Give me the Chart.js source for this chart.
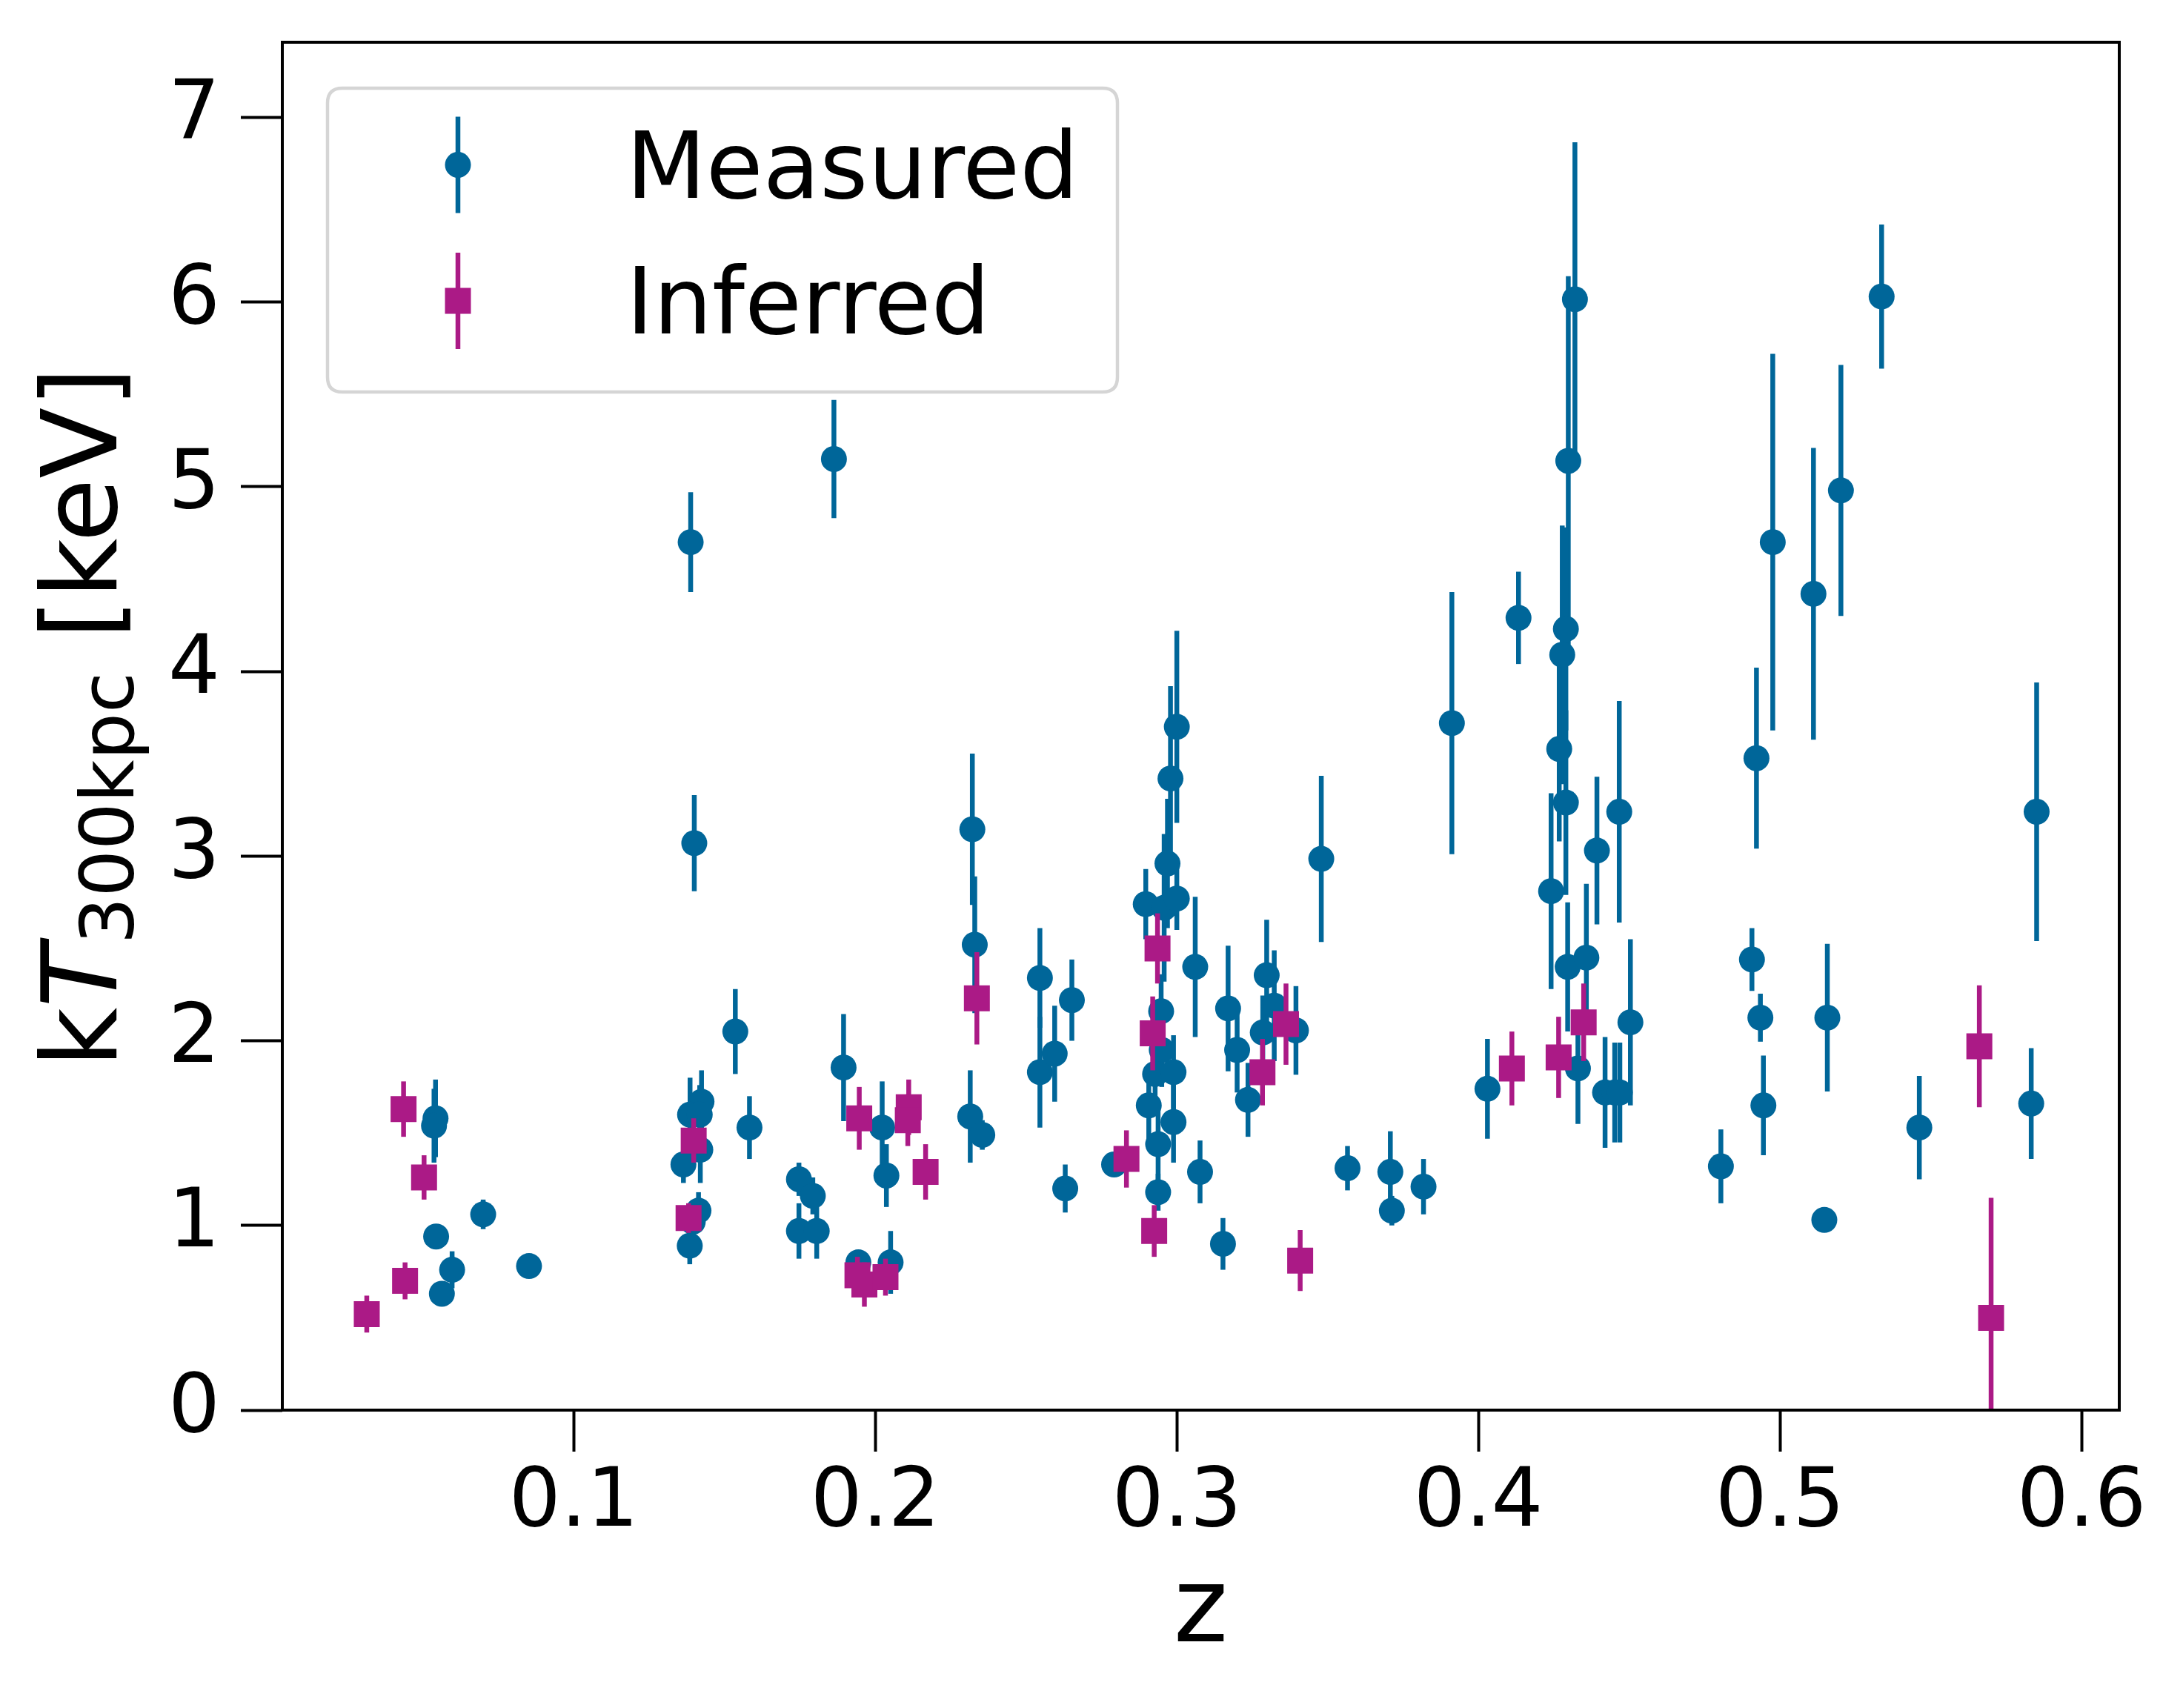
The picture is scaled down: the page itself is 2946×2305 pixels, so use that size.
<!DOCTYPE html>
<html>
<head>
<meta charset="utf-8">
<script src="https://cdn.jsdelivr.net/npm/chart.js@4.4.1/dist/chart.umd.min.js"></script>
<style>
html,body{margin:0;padding:0;background:#ffffff;}
canvas{display:block;}
</style>
</head>
<body>
<canvas id="c" width="2946" height="2305" style="width:2946px;height:2305px"></canvas>
<script>
// ---------------- data ----------------
const seriesNames = ['Measured', 'Inferred'];

const measuredZ = [
  0.0542, 0.0537, 0.0544, 0.0597, 0.0563, 0.0700, 0.0852,
  0.1388, 0.1400, 0.1424, 0.1386, 0.1418, 0.1420, 0.1364, 0.1414, 0.1395, 0.1385,
  0.1536, 0.1583, 0.1747, 0.1793, 0.1747, 0.1806, 0.1863, 0.1895,
  0.2023, 0.2037, 0.1944, 0.2051,
  0.2322, 0.2330, 0.2315, 0.2355, 0.2546, 0.2546, 0.2595, 0.2652, 0.2630, 0.2792,
  0.2897, 0.2958, 0.2969, 0.2979, 0.3000, 0.3000, 0.2948, 0.2950, 0.2928, 0.2989,
  0.2907, 0.2989, 0.2938, 0.2938,
  0.3061, 0.3077, 0.3153, 0.3170, 0.3200, 0.3236, 0.3298, 0.3323, 0.3285, 0.3395,
  0.3479, 0.3566, 0.3708, 0.3713, 0.3818, 0.3912, 0.4030, 0.4133,
  0.4320, 0.4298, 0.4290, 0.4278, 0.4268, 0.4290, 0.4241, 0.4393, 0.4467,
  0.4296, 0.4358, 0.4330, 0.4420, 0.4452, 0.4469, 0.4504,
  0.4804, 0.4907, 0.4922, 0.4935, 0.4945, 0.4976, 0.5111, 0.5202, 0.5337,
  0.5157, 0.5147, 0.5462, 0.5851, 0.5833
];
const measuredT = [
  1.58, 1.54, 0.94, 0.76, 0.63, 1.06, 0.78,
  4.70, 3.07, 1.67, 1.60, 1.60, 1.41, 1.33, 1.08, 1.02, 0.89,
  2.05, 1.53, 1.25, 1.16, 0.97, 0.97, 5.15, 1.855,
  1.53, 1.27, 0.80, 0.80,
  3.145, 2.52, 1.59, 1.49, 2.34, 1.83, 1.93, 2.22, 1.20, 1.33,
  2.74, 2.72, 2.96, 3.42, 3.70, 2.77, 2.16, 1.95, 1.82, 1.83,
  1.65, 1.56, 1.44, 1.18,
  2.40, 1.29, 0.90, 2.175, 1.95, 1.68, 2.355, 2.19, 2.045, 2.056,
  2.985, 1.31, 1.29, 1.08, 1.21, 3.72, 1.74, 4.29,
  6.015, 5.14, 4.23, 4.09, 3.58, 3.29, 2.81, 3.03, 3.24,
  2.40, 2.45, 1.85, 1.72, 1.72, 1.72, 2.10,
  1.32, 2.44, 3.53, 2.125, 1.65, 4.70, 4.42, 4.98, 6.03,
  2.125, 1.03, 1.53, 3.24, 1.66
];
const measuredErr = [
  0.21, 0.20, 0.03, 0.10, 0.03, 0.08, 0.05,
  0.27, 0.26, 0.17, 0.20, 0.16, 0.18, 0.10, 0.10, 0.08, 0.10,
  0.23, 0.17, 0.09, 0.10, 0.15, 0.15, 0.32, 0.29,
  0.25, 0.17, 0.03, 0.17,
  0.41, 0.37, 0.25, 0.08, 0.27, 0.30, 0.26, 0.22, 0.13, 0.05,
  0.19, 0.40, 0.35, 0.50, 0.52, 0.17, 0.20, 0.20, 0.20, 0.20,
  0.20, 0.22, 0.20, 0.10,
  0.38, 0.17, 0.14, 0.34, 0.23, 0.20, 0.30, 0.30, 0.20, 0.24,
  0.45, 0.12, 0.22, 0.08, 0.15, 0.71, 0.27, 0.25,
  0.85, 1.00, 0.55, 0.70, 0.50, 0.50, 0.53, 0.40, 0.60,
  0.35, 0.40, 0.30, 0.30, 0.27, 0.27, 0.45,
  0.20, 0.17, 0.49, 0.13, 0.27, 1.02, 0.79, 0.68, 0.39,
  0.40, 0.05, 0.28, 0.70, 0.30
];

const inferredZ = [
  0.0314, 0.0436, 0.0441, 0.0504, 0.1398, 0.1381, 0.1947, 0.1941, 0.1964, 0.2034,
  0.2111, 0.2108, 0.2167, 0.2337, 0.2833, 0.2936, 0.2920, 0.2925, 0.3284, 0.3362,
  0.3409, 0.4111, 0.4266, 0.4349, 0.5661, 0.5700
];
const inferredT = [
  0.52, 1.63, 0.70, 1.26, 1.46, 1.04, 1.58, 0.73, 0.68, 0.72,
  1.64, 1.57, 1.29, 2.23, 1.36, 2.50, 2.04, 0.97, 1.83, 2.09,
  0.81, 1.85, 1.91, 2.10, 1.97, 0.50
];
const inferredErr = [
  0.10, 0.15, 0.10, 0.12, 0.12, 0.08, 0.17, 0.10, 0.12, 0.10,
  0.15, 0.14, 0.15, 0.25, 0.155, 0.19, 0.20, 0.14, 0.18, 0.22,
  0.165, 0.20, 0.22, 0.21, 0.33, 0.65
];

const xTicks = [0.1, 0.2, 0.3, 0.4, 0.5, 0.6];
const xTickLabels = ['0.1', '0.2', '0.3', '0.4', '0.5', '0.6'];
const yTicks = [0, 1, 2, 3, 4, 5, 6, 7];
const yTickLabels = ['0', '1', '2', '3', '4', '5', '6', '7'];
const xTitle = 'z';
const yTitleParts = ['k', 'T', '300kpc', ' [keV]'];

// ---------------- style ----------------
const BLUE = '#006699';
const MAGENTA = '#ab1a86';
const FONT = "'DejaVu Sans', 'Liberation Sans', sans-serif";
const ERR_W = 6.5;

function pts(zs, ts, es) {
  return zs.map((z, i) => ({ x: z, y: ts[i], err: es[i] }));
}

const errorBarPlugin = {
  id: 'errorBars',
  beforeDatasetDraw(chart, args) {
    const ds = chart.data.datasets[args.index];
    const xs = chart.scales.x, ys = chart.scales.y;
    const ca = chart.chartArea;
    const ctx = chart.ctx;
    ctx.save();
    ctx.beginPath();
    ctx.rect(ca.left, ca.top, ca.right - ca.left, ca.bottom - ca.top);
    ctx.clip();
    ctx.strokeStyle = ds.backgroundColor;
    ctx.lineWidth = ERR_W;
    ctx.lineCap = 'butt';
    ds.data.forEach(p => {
      const px = xs.getPixelForValue(p.x);
      const y1 = ys.getPixelForValue(p.y - p.err);
      const y2 = ys.getPixelForValue(p.y + p.err);
      ctx.beginPath();
      ctx.moveTo(px, y1);
      ctx.lineTo(px, y2);
      ctx.stroke();
    });
    ctx.restore();
  }
};

const framePlugin = {
  id: 'frame',
  afterDatasetsDraw(chart) {
    const ctx = chart.ctx;
    const ca = chart.chartArea;
    ctx.save();
    ctx.strokeStyle = '#000000';
    ctx.lineWidth = 4;
    ctx.strokeRect(ca.left, ca.top, ca.right - ca.left, ca.bottom - ca.top);
    ctx.restore();
  }
};

const legendPlugin = {
  id: 'mplLegend',
  afterDatasetsDraw(chart) {
    const ctx = chart.ctx;
    ctx.save();
    const bx = 442, by = 119, bw = 1066, bh = 410, r = 20;
    ctx.beginPath();
    ctx.moveTo(bx + r, by);
    ctx.lineTo(bx + bw - r, by);
    ctx.quadraticCurveTo(bx + bw, by, bx + bw, by + r);
    ctx.lineTo(bx + bw, by + bh - r);
    ctx.quadraticCurveTo(bx + bw, by + bh, bx + bw - r, by + bh);
    ctx.lineTo(bx + r, by + bh);
    ctx.quadraticCurveTo(bx, by + bh, bx, by + bh - r);
    ctx.lineTo(bx, by + r);
    ctx.quadraticCurveTo(bx, by, bx + r, by);
    ctx.closePath();
    ctx.fillStyle = 'rgba(255,255,255,0.8)';
    ctx.fill();
    ctx.strokeStyle = '#d5d5d5';
    ctx.lineWidth = 4.5;
    ctx.stroke();

    const entries = [
      { name: seriesNames[0], color: BLUE, style: 'circle', y: 222.5, ty: 267 },
      { name: seriesNames[1], color: MAGENTA, style: 'rect', y: 406, ty: 450 }
    ];
    const mx = 618;
    entries.forEach(e => {
      ctx.strokeStyle = e.color;
      ctx.lineWidth = ERR_W;
      ctx.beginPath();
      ctx.moveTo(mx, e.y - 65);
      ctx.lineTo(mx, e.y + 65);
      ctx.stroke();
      ctx.fillStyle = e.color;
      if (e.style === 'circle') {
        ctx.beginPath();
        ctx.arc(mx, e.y, 17.5, 0, Math.PI * 2);
        ctx.fill();
      } else {
        ctx.fillRect(mx - 17.5, e.y - 17.5, 35, 35);
      }
      ctx.fillStyle = '#000000';
      ctx.font = '125px ' + FONT;
      ctx.textAlign = 'left';
      ctx.textBaseline = 'alphabetic';
      ctx.fillText(e.name, 845, e.ty);
    });
    ctx.restore();
  }
};

const yTitlePlugin = {
  id: 'yTitle',
  afterDraw(chart) {
    const ctx = chart.ctx;
    const ca = chart.chartArea;
    const mainFont = '140px ' + FONT;
    const italFont = 'oblique 140px ' + FONT;
    const subFont = '100px ' + FONT;
    const fonts = [mainFont, italFont, subFont, mainFont];
    const shifts = [0, 0, 23, 0];
    ctx.save();
    let total = 0;
    const widths = yTitleParts.map((t, i) => {
      ctx.font = fonts[i];
      const w = ctx.measureText(t).width;
      total += w;
      return w;
    });
    const cy = (ca.top + ca.bottom) / 2 - 12;
    const baseX = 157;
    ctx.translate(baseX, cy);
    ctx.rotate(-Math.PI / 2);
    ctx.fillStyle = '#000000';
    ctx.textAlign = 'left';
    ctx.textBaseline = 'alphabetic';
    let x = -total / 2;
    yTitleParts.forEach((t, i) => {
      ctx.font = fonts[i];
      ctx.fillText(t, x, shifts[i]);
      x += widths[i];
    });
    ctx.restore();
  }
};

new Chart(document.getElementById('c'), {
  type: 'scatter',
  data: {
    datasets: [
      {
        label: seriesNames[0],
        data: pts(measuredZ, measuredT, measuredErr),
        backgroundColor: BLUE,
        borderColor: BLUE,
        borderWidth: 0,
        pointStyle: 'circle',
        pointRadius: 17.5,
        pointHoverRadius: 17.5,
        order: 2
      },
      {
        label: seriesNames[1],
        data: pts(inferredZ, inferredT, inferredErr),
        backgroundColor: MAGENTA,
        borderColor: MAGENTA,
        borderWidth: 0,
        pointStyle: 'rect',
        pointRadius: 24.75,
        pointHoverRadius: 24.75,
        order: 1
      }
    ]
  },
  options: {
    responsive: false,
    devicePixelRatio: 1,
    animation: false,
    events: [],
    layout: { padding: { top: 57, right: 86, left: 0, bottom: 0 } },
    plugins: {
      legend: { display: false },
      tooltip: { enabled: false },
      title: { display: false }
    },
    scales: {
      x: {
        type: 'linear',
        min: 0.0034,
        max: 0.6125,
        afterFit(s) { s.height = 402; s.paddingLeft = 0; s.paddingRight = 0; },
        afterBuildTicks(s) { s.ticks = xTicks.map(v => ({ value: v })); },
        border: { display: false },
        grid: {
          display: true,
          drawOnChartArea: false,
          drawTicks: true,
          tickLength: 56,
          tickWidth: 4,
          tickColor: '#000000'
        },
        ticks: {
          autoSkip: false,
          maxRotation: 0,
          minRotation: 0,
          padding: 5,
          color: '#000000',
          font: { family: FONT, size: 110, lineHeight: 1.2 },
          callback: (v, i) => xTickLabels[i]
        },
        title: {
          display: true,
          text: xTitle,
          color: '#000000',
          font: { family: FONT, size: 140, lineHeight: 1.2 },
          padding: { top: 42, bottom: 42 }
        }
      },
      y: {
        type: 'linear',
        min: 0,
        max: 7.407,
        afterFit(s) { s.width = 381; s.paddingTop = 0; s.paddingBottom = 0; },
        afterBuildTicks(s) { s.ticks = yTicks.map(v => ({ value: v })); },
        border: { display: false },
        grid: {
          display: true,
          drawOnChartArea: false,
          drawTicks: true,
          tickLength: 56,
          tickWidth: 4,
          tickColor: '#000000'
        },
        ticks: {
          autoSkip: false,
          padding: 28,
          color: '#000000',
          font: { family: FONT, size: 110, lineHeight: 1.2 },
          callback: (v, i) => yTickLabels[i]
        },
        title: { display: false }
      }
    }
  },
  plugins: [errorBarPlugin, framePlugin, legendPlugin, yTitlePlugin]
});
</script>
</body>
</html>
